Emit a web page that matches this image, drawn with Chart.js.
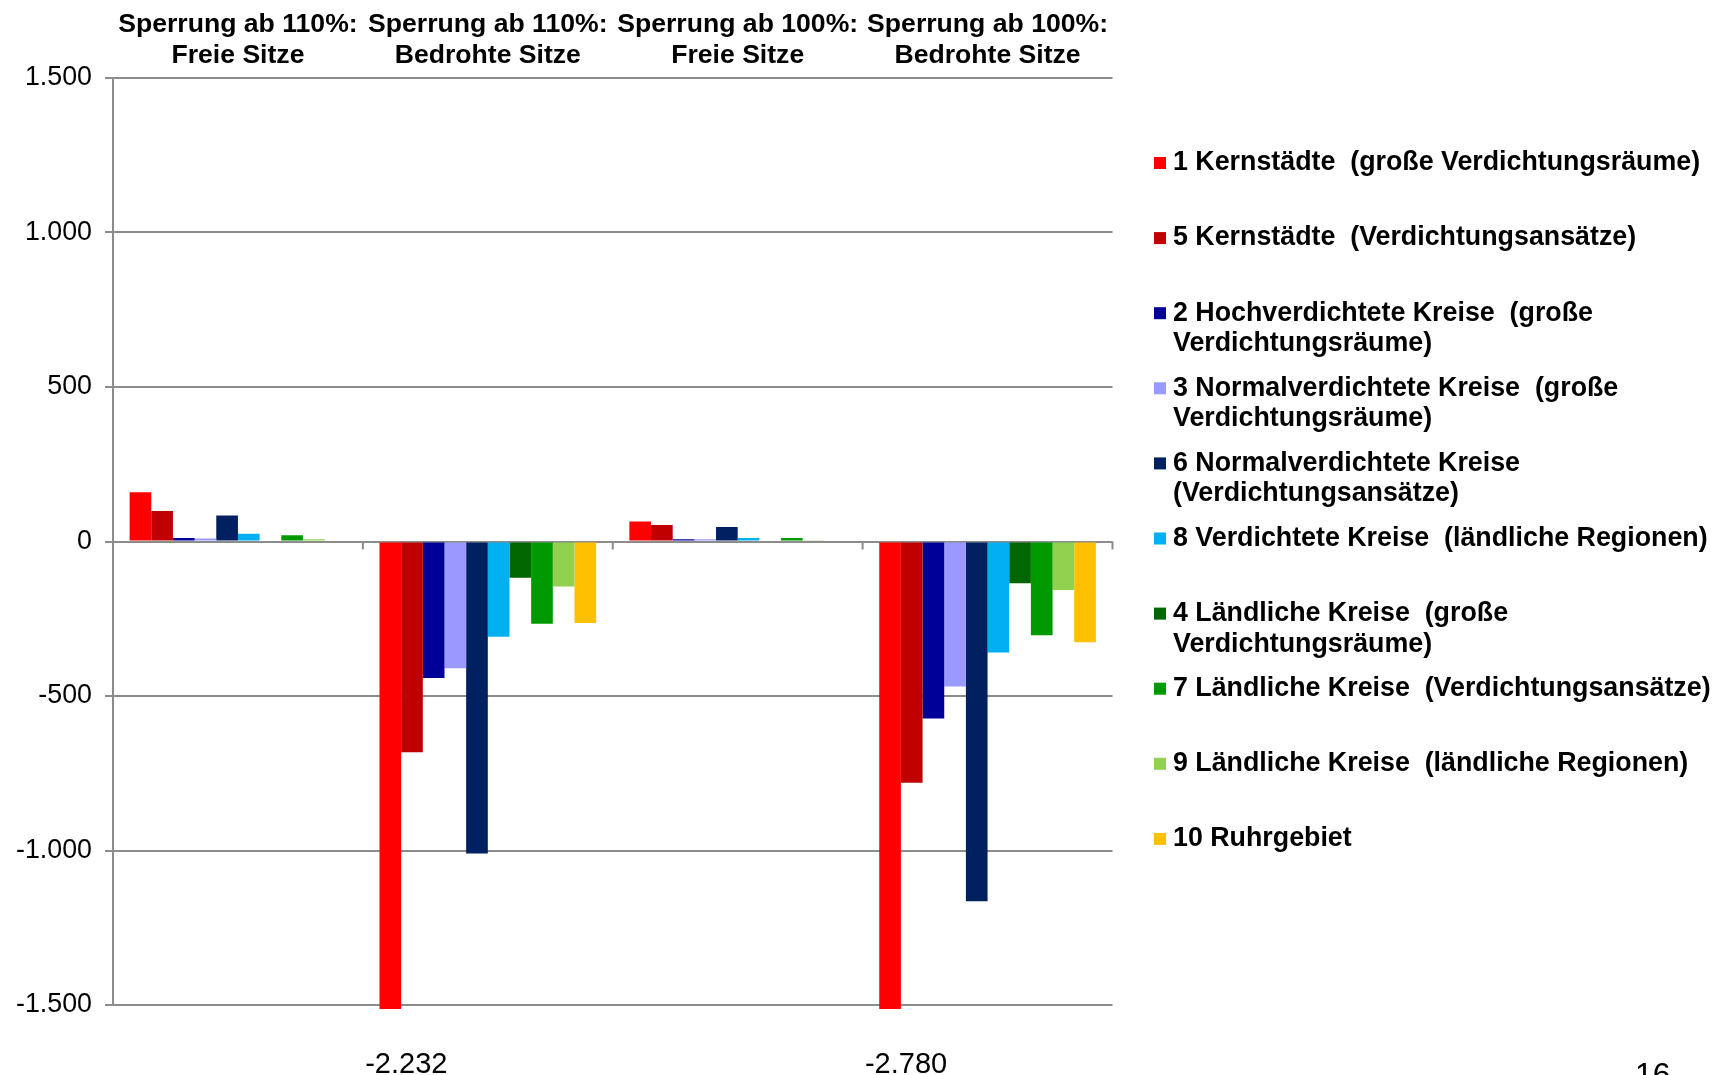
<!DOCTYPE html>
<html>
<head>
<meta charset="utf-8">
<script src="https://cdn.jsdelivr.net/npm/chart.js@4.4.1/dist/chart.umd.min.js"></script>
<style>
  body { margin: 0; background: #fff; }
  #wrap { width: 1722px; height: 1075px; }
</style>
</head>
<body>
<div id="wrap"><canvas id="chart" width="1722" height="1075"></canvas></div>
<script>
// Kategorien (oben als Achsenbeschriftung)
const categories = [
    ["Sperrung ab 110%:", "Freie Sitze"],
    ["Sperrung ab 110%:", "Bedrohte Sitze"],
    ["Sperrung ab 100%:", "Freie Sitze"],
    ["Sperrung ab 100%:", "Bedrohte Sitze"]
];

// Werte je Kreistyp
const kernstaedteGross      = [159, -2232, 65, -2780];
const kernstaedteAnsatz     = [99, -682, 53, -781];
const hochverdichtetGross   = [11, -442, 7, -573];
const normalverdichtetGross = [10, -410, 7, -469];
const normalverdichtetAnsatz = [84, -1010, 47, -1164];
const verdichtetLaendlich   = [25, -308, 11, -359];
const laendlichGross        = [3, -117, 0, -135];
const laendlichAnsatz       = [20, -266, 11, -303];
const laendlichLaendlich    = [7, -146, 4, -157];
const ruhrgebiet            = [0, -264, 0, -326];

// Legende (mit Zeilenumbruch wie im Original)
const seriesLabels = [
    ["1 Kernstädte  (große Verdichtungsräume)"],
    ["5 Kernstädte  (Verdichtungsansätze)"],
    ["2 Hochverdichtete Kreise  (große", "Verdichtungsräume)"],
    ["3 Normalverdichtete Kreise  (große", "Verdichtungsräume)"],
    ["6 Normalverdichtete Kreise", "(Verdichtungsansätze)"],
    ["8 Verdichtete Kreise  (ländliche Regionen)"],
    ["4 Ländliche Kreise  (große", "Verdichtungsräume)"],
    ["7 Ländliche Kreise  (Verdichtungsansätze)"],
    ["9 Ländliche Kreise  (ländliche Regionen)"],
    ["10 Ruhrgebiet"]
];
const seriesColors = ["#FF0000", "#C00000", "#000099", "#9999FF", "#002060",
                      "#00B0F0", "#006600", "#009900", "#92D050", "#FFC000"];
const seriesValues = [kernstaedteGross, kernstaedteAnsatz, hochverdichtetGross,
    normalverdichtetGross, normalverdichtetAnsatz, verdichtetLaendlich,
    laendlichGross, laendlichAnsatz, laendlichLaendlich, ruhrgebiet];

const yTicks = [-1500, -1000, -500, 0, 500, 1000, 1500];

const FONT = "'Liberation Sans', Arial, sans-serif";
const GRID = "#8c8c8c";

function deNum(v) {
    const s = Math.abs(v).toString().replace(/\B(?=(\d{3})+(?!\d))/g, ".");
    return (v < 0 ? "-" : "") + s;
}

// Teilstriche an den Kategoriegrenzen, Werte außerhalb, Legende
const extras = {
    id: "extras",
    afterDraw(chart) {
        const ctx = chart.ctx;
        const area = chart.chartArea;
        const y = chart.scales.y;
        const y0 = y.getPixelForValue(0);
        const n = categories.length;
        ctx.save();
        ctx.strokeStyle = GRID;
        ctx.lineWidth = 2;
        for (let i = 0; i <= n; i++) {
            const x = area.left + i * (area.right - area.left) / n;
            ctx.beginPath();
            ctx.moveTo(x, y0);
            ctx.lineTo(x, y0 + 8);
            ctx.stroke();
        }

        // Beschriftung für abgeschnittene Balken
        ctx.fillStyle = "#000";
        ctx.font = "29px " + FONT;
        ctx.textAlign = "center";
        ctx.textBaseline = "alphabetic";
        chart.data.datasets.forEach((ds, di) => {
            const meta = chart.getDatasetMeta(di);
            ds.data.forEach((v, i) => {
                if (v < y.min) {
                    ctx.fillText(deNum(v), meta.data[i].x + 16, 1073);
                }
            });
        });

        // Legende
        ctx.font = "bold 26.8px " + FONT;
        ctx.textAlign = "left";
        ctx.textBaseline = "middle";
        seriesLabels.forEach((lines, i) => {
            const cy = 163 + i * 75.1;
            ctx.fillStyle = seriesColors[i];
            ctx.fillRect(1154, cy - 6, 12, 12);
            ctx.fillStyle = "#000";
            lines.forEach((t, j) => ctx.fillText(t, 1173, cy + j * 30.7));
        });

        // Seitenzahl
        ctx.font = "32px " + FONT;
        ctx.textBaseline = "alphabetic";
        ctx.fillText("16", 1635, 1085);
        ctx.restore();
    }
};

new Chart(document.getElementById("chart"), {
    type: "bar",
    data: {
        labels: categories,
        datasets: seriesValues.map((vals, i) => ({
            label: seriesLabels[i].join(" "),
            data: vals,
            backgroundColor: seriesColors[i],
            borderWidth: 0,
            clip: { left: 5, top: 5, right: 5, bottom: 4 }
        }))
    },
    options: {
        responsive: false,
        animation: false,
        layout: { padding: { left: 0, right: 609.5, top: 0, bottom: 70 } },
        datasets: { bar: { barPercentage: 1, categoryPercentage: 0.867 } },
        plugins: { legend: { display: false }, tooltip: { enabled: false } },
        scales: {
            x: {
                position: "top",
                grid: { display: false, drawTicks: false },
                border: { display: false },
                ticks: {
                    color: "#000",
                    font: { family: FONT, size: 26.6, weight: "bold", lineHeight: 1.17 },
                    padding: 7,
                    maxRotation: 0,
                    autoSkip: false
                },
                afterFit: s => { s.height = 78; }
            },
            y: {
                min: -1500,
                max: 1500,
                afterBuildTicks: s => { s.ticks = yTicks.map(v => ({ value: v })); },
                grid: { color: GRID, lineWidth: 2, tickLength: 8 },
                border: { color: GRID, width: 2 },
                ticks: {
                    color: "#000",
                    font: { family: FONT, size: 26.8 },
                    padding: 13,
                    callback: v => deNum(v)
                },
                afterFit: s => { s.width = 113; }
            }
        }
    },
    plugins: [extras]
});
</script>
</body>
</html>
